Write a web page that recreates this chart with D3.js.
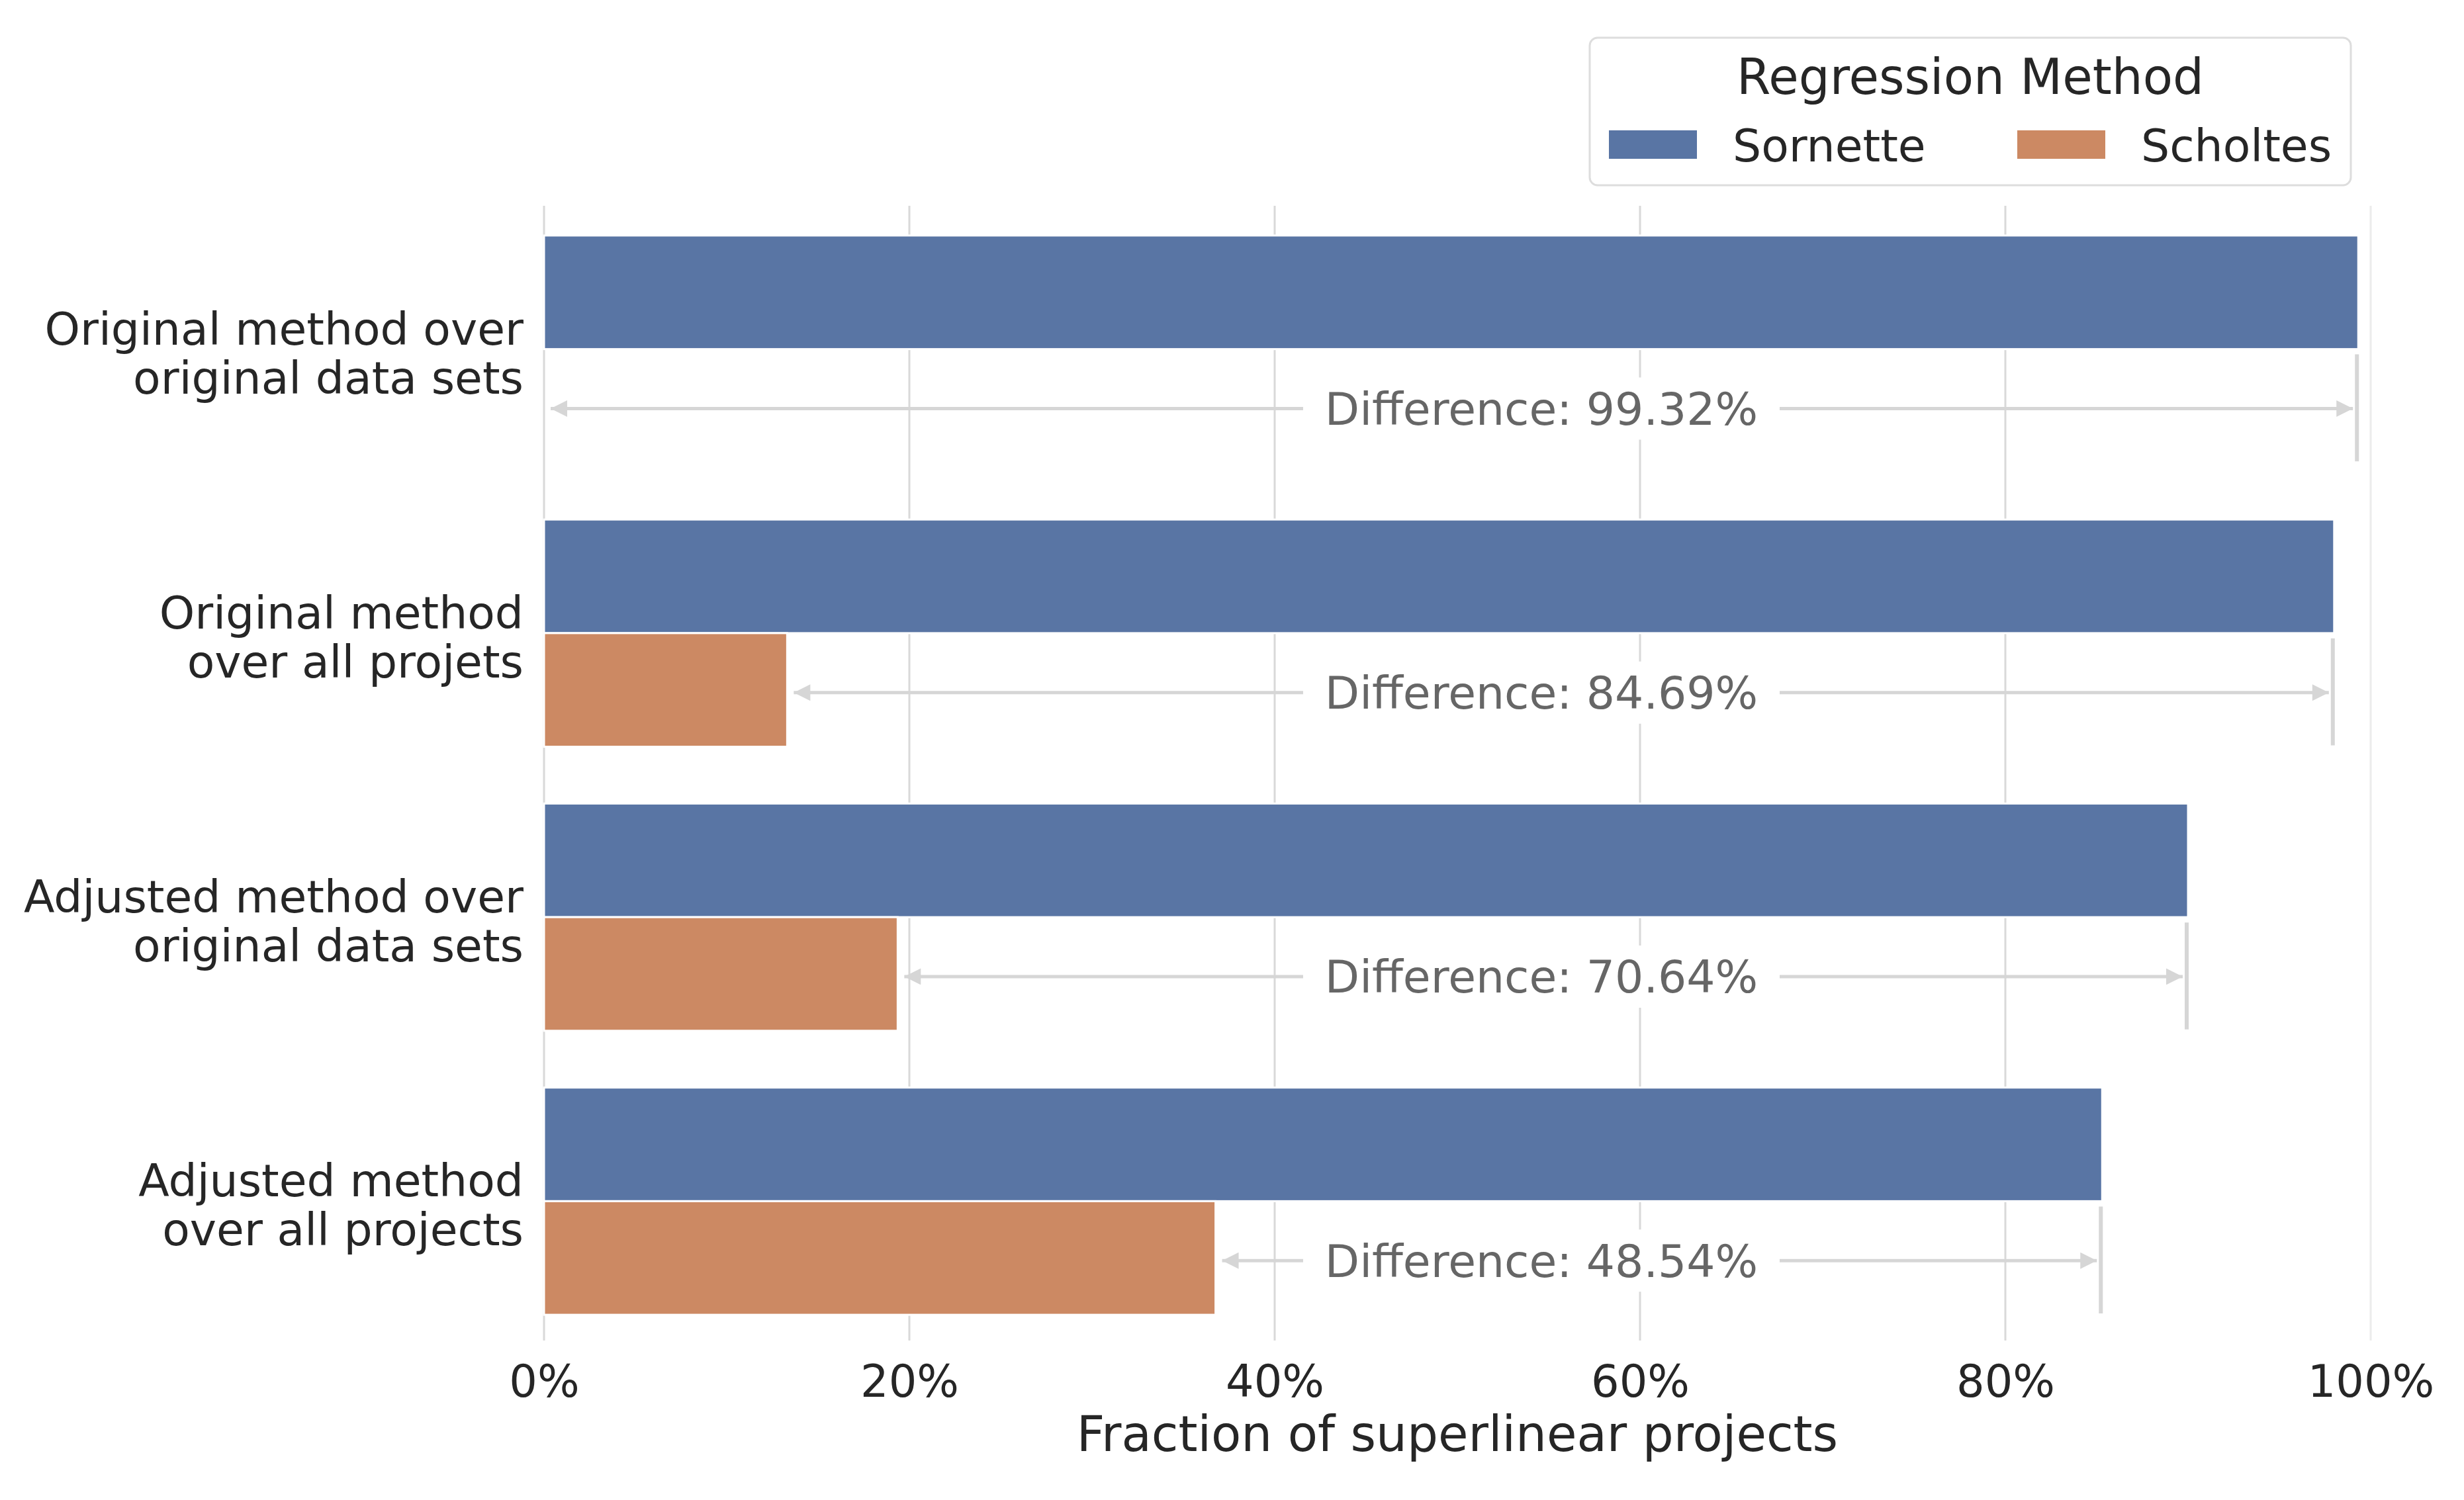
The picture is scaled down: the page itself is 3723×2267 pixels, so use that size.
<!DOCTYPE html>
<html>
<head>
<meta charset="utf-8">
<script src="https://cdn.jsdelivr.net/npm/d3@7"></script>
<style>
  body { margin: 0; background: #fff; }
  text { font-family: "DejaVu Sans", sans-serif; }
</style>
</head>
<body>
<svg id="chart" width="3723" height="2267"></svg>
<script>
// data
const categories = [
  'Original method over\noriginal data sets',
  'Original method\nover all projets',
  'Adjusted method over\noriginal data sets',
  'Adjusted method\nover all projects'
];
const seriesNames = ['Sornette', 'Scholtes'];
const sornette = [99.32, 98.0, 90.0, 85.3];
const scholtes = [0, 13.31, 19.36, 36.76];
const differences = ['99.32%', '84.69%', '70.64%', '48.54%'];
const xTicks = [0, 20, 40, 60, 80, 100];
const xLabel = 'Fraction of superlinear projects';
const legendTitle = 'Regression Method';

const colors = {Sornette: '#5975a4', Scholtes: '#cc8963'};
const textColor = '#262626';
const gridColor = '#d9d9d9';
const annColor = '#d6d6d6';

const svg = d3.select('#chart');
const x = d3.scaleLinear().domain([0, 100]).range([822, 3582]);
const y = d3.scaleBand().domain(categories).range([313, 2030]);
const bw = y.bandwidth();
const ySub = d3.scaleBand().domain(seriesNames).range([0, bw * 0.8]);

// grid
const grid = svg.append('g');
grid.selectAll('line').data(xTicks).enter().append('line')
  .attr('x1', d => x(d)).attr('x2', d => x(d))
  .attr('y1', 311).attr('y2', 2026)
  .style('stroke', d => d === 100 ? '#ececec' : gridColor)
  .style('stroke-width', 3);

// bars
const rows = categories.map((c, i) => ({cat: c, Sornette: sornette[i], Scholtes: scholtes[i], diff: differences[i]}));
const groups = svg.append('g').selectAll('g').data(rows).enter().append('g')
  .attr('transform', d => `translate(0,${y(d.cat) + bw * 0.1})`);
groups.selectAll('rect').data(d => seriesNames.map(s => ({s, v: d[s]}))).enter().append('rect')
  .attr('x', x(0))
  .attr('y', d => ySub(d.s))
  .attr('width', d => x(d.v) - x(0))
  .attr('height', ySub.bandwidth())
  .style('fill', d => colors[d.s])
  .style('stroke', '#fff')
  .style('stroke-width', 3);

// difference annotations
svg.append('defs').append('marker')
  .attr('id', 'head').attr('viewBox', '0 0 10 10')
  .attr('refX', 10).attr('refY', 5)
  .attr('markerWidth', 6).attr('markerHeight', 5)
  .attr('markerUnits', 'strokeWidth')
  .attr('orient', 'auto-start-reverse')
  .append('path').attr('d', 'M0,0L10,5L0,10Z').style('fill', annColor);

const ann = groups.append('g')
  .attr('transform', d => `translate(0,${ySub('Scholtes') + ySub.bandwidth() / 2 + 4})`);
ann.append('line')
  .attr('x1', d => x(d.Scholtes) + 10)
  .attr('x2', d => x(d.Sornette) - 8)
  .style('stroke', annColor).style('stroke-width', 5)
  .attr('marker-start', 'url(#head)').attr('marker-end', 'url(#head)');
ann.append('line')
  .attr('x1', d => x(d.Sornette) - 2).attr('x2', d => x(d.Sornette) - 2)
  .attr('y1', -ySub.bandwidth() / 2 + 4).attr('y2', ySub.bandwidth() / 2 - 6)
  .style('stroke', annColor).style('stroke-width', 6);
ann.append('rect')
  .attr('x', x(54.6) - 360).attr('y', -47)
  .attr('width', 720).attr('height', 94)
  .style('fill', '#fff');
ann.append('text')
  .attr('x', x(54.6)).attr('dy', '0.36em')
  .attr('text-anchor', 'middle')
  .style('font-size', '68px').style('fill', '#666666')
  .text(d => 'Difference: ' + d.diff);

// category labels
const ylab = svg.append('g').selectAll('text').data(categories).enter().append('text')
  .attr('text-anchor', 'end')
  .attr('transform', d => `translate(791,${y(d) + bw / 2})`)
  .style('font-size', '68px').style('fill', textColor);
ylab.selectAll('tspan').data(d => d.split('\n')).enter().append('tspan')
  .attr('x', 0).attr('y', (d, i) => i === 0 ? -7 : 67)
  .text(d => d);

// x axis
const xAxis = svg.append('g')
  .attr('transform', 'translate(0,2111)')
  .call(d3.axisBottom(x).tickValues(xTicks).tickFormat(d => d + '%').tickSize(0));
xAxis.select('.domain').remove();
xAxis.selectAll('text')
  .attr('y', 0).attr('dy', 0)
  .style('font-size', '67px').style('fill', textColor)
  .style('font-family', '"DejaVu Sans", sans-serif');

svg.append('text')
  .attr('x', (x(0) + x(100)) / 2).attr('y', 2193)
  .attr('text-anchor', 'middle')
  .style('font-size', '74px').style('fill', textColor)
  .text(xLabel);

// legend
const leg = svg.append('g');
leg.append('rect')
  .attr('x', 2402).attr('y', 57).attr('width', 1150).attr('height', 223)
  .attr('rx', 12)
  .style('fill', '#fff').style('stroke', '#dddddd').style('stroke-width', 3);
leg.append('text')
  .attr('x', 2977).attr('y', 142)
  .attr('text-anchor', 'middle')
  .style('font-size', '74px').style('fill', textColor)
  .text(legendTitle);
const legX = d3.scaleOrdinal().domain(seriesNames).range([2431, 3048]);
const items = leg.selectAll('.item').data(seriesNames).enter().append('g')
  .attr('transform', d => `translate(${legX(d)},197)`);
items.append('rect')
  .attr('width', 133).attr('height', 43)
  .style('fill', d => colors[d]);
items.append('text')
  .attr('x', 187).attr('y', 47)
  .style('font-size', '68px').style('fill', textColor)
  .text(d => d);
</script>
</body>
</html>
